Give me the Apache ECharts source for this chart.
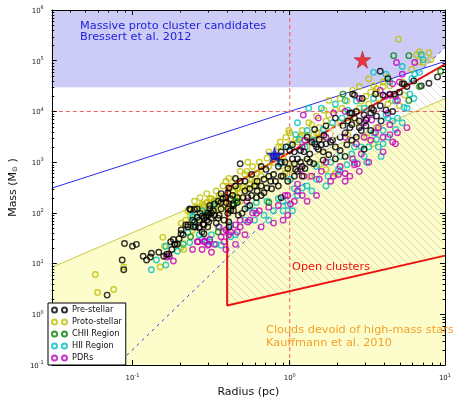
<!DOCTYPE html>
<html>
<head>
<meta charset="utf-8">
<script src="https://cdn.jsdelivr.net/npm/echarts@6/dist/echarts.min.js"></script>
<style>
html, body { margin: 0; padding: 0; background: #fff; }
#main { width: 454px; height: 403px; }
</style>
</head>
<body>
<div id="main"></div>
<script>
// axis extents: radius in pc, mass in solar masses
var radiusRange = [0.0307, 9.7];
var massRange = [0.1, 1e6];
var minorSteps = [2, 3, 4, 5, 6, 7, 8, 9];
var radiusDecades = [0.01, 0.1, 1];
var massDecades = [0.1, 1, 10, 100, 1e3, 1e4, 1e5];

// [radius, mass]
var preStellar = [
  [0.089,25],[0.10,22],[0.106,24],[0.086,11.8],[0.088,7.6],[0.069,2.4],[0.123,11.8],[0.13,13.5],[0.132,16],[0.158,14],
  [0.17,15.4],[0.175,27],[0.187,24],[0.193,24],[0.204,39],[0.225,53],[0.234,117],[0.248,117],[0.248,66],[0.266,51],
  [0.251,53],[0.258,82],[0.277,86],[0.293,86],[0.301,100],[0.281,60],[0.285,39],[0.31,120],[0.165,15.4],[0.185,24],
  [0.244,53],[0.266,72],[0.285,79],[0.305,90],[0.318,79],[0.318,100],[0.351,79],[0.356,90],[0.376,190],[0.366,120],
  [0.393,160],[0.404,98],[0.421,110],[0.41,66],[0.439,140],[0.464,160],[0.433,220],[0.464,200],[0.382,72],[0.41,53],
  [0.341,63],[0.301,53],[0.277,42],
  [0.484,930],[0.452,480],[0.393,200],[0.421,190],[0.439,150],[0.505,200],[0.541,200],[0.572,220],[0.614,200],[0.658,220],
  [0.686,250],[0.716,310],[0.736,530],[0.789,570],[0.756,420],[0.811,420],[0.767,300],[0.706,720],[0.686,460],[0.846,820],
  [0.933,1000],[1.0,1700],[1.07,1600],[1.04,1160],[1.12,1160],[1.17,1700],[1.23,1600],[1.07,930],[0.882,530],[0.846,340],
  [0.882,200],[0.557,140],[0.519,120],[0.439,110],[0.404,120],[0.471,90],[0.497,98],[0.332,90],[0.305,66],[0.285,58],
  [0.225,58],[0.31,140],[0.366,160],[0.231,120],
  [0.519,270],[0.557,300],[0.597,340],[0.62,270],[0.658,340],[0.452,340],[0.484,420],[0.332,150],[0.351,170],[0.404,250],
  [0.433,150],[0.258,120],[0.269,98],[0.241,72],[0.218,58],[0.204,46],[0.21,37],[0.182,30],[0.198,31],
  [0.297,72],[0.327,110],[0.366,240],[0.41,310],[0.519,420],[0.572,570],[0.62,420],[0.658,820],[0.789,1300],[0.882,1600],
  [0.946,2000],[1.29,3100],[1.44,4400],[1.70,5200],[1.95,7400],[2.18,5200],[2.41,9300],[2.89,1.8e4],[3.51,2.2e4],[5.34,3.5e4],
  [4.21,4.4e4],[0.178,19],[0.147,16.8],[0.117,14],
  [1.38,2500],[1.48,2000],[1.59,2200],[1.82,2500],[2.09,3100],[2.25,3800],[2.41,4800],[2.77,4800],[3.05,6800],[3.32,1.16e4],
  [1.20,820],[1.34,1000],[1.12,660],[0.972,750],[0.907,530],[0.972,420],[1.04,2200],[0.882,1000],[0.822,1300],
  [2.58,2.1e4],[2.51,2.2e4],[2.48,9300],[2.58,7400],[2.77,6500],[2.97,8500],[3.27,9300],[3.41,1.06e4],[3.76,1.3e4],[3.92,2.1e4],
  [4.33,2.2e4],[4.51,1.0e4],[4.09,1.06e4],[3.56,8100],[3.81,6500],[3.05,5200],[3.27,4200],[2.85,4200],[2.65,3100],[2.48,2700],
  [2.31,2200],[2.09,1700],[1.95,2000],[1.87,2700],[1.70,2300],[1.65,3400],[1.54,2800],[1.44,2300],[1.52,1800],[1.63,1600],
  [1.77,1400],[1.34,1450],[1.29,1160],[1.17,1000],[1.09,720],[1.07,530],[1.20,530],[1.25,750],[1.42,930],[1.63,1100],
  [1.95,1160],[2.25,1300],[2.97,1800],[2.48,5500],[2.65,1.0e4],[2.34,6500],
  [3.76,6.2e4],[6.14,4.0e4],[6.86,3.2e4],[8.7,4.8e4],[7.67,3.6e4],[5.56,3.1e4],[5.19,3.5e4],[4.98,2.4e4],[4.64,2.2e4]
];

var protoStellar = [
  [0.058,6.1],[0.06,2.7],[0.076,3.1],[0.088,8.6],[0.156,33],[0.16,22],[0.15,8.6],[0.204,63],[0.212,19],[0.269,200],
  [0.281,130],[0.305,130],[0.31,190],[0.204,21],[0.21,25],[0.273,120],[0.318,190],[0.332,130],[0.356,150],[0.371,190],
  [0.241,46],[0.297,100],[0.464,300],[0.452,460],
  [0.393,420],[0.421,340],[0.505,340],[0.557,370],[0.597,420],[0.484,170],[0.452,220],[0.356,220],[0.332,170],[0.297,160],
  [0.251,130],[0.234,90],[0.218,72],[0.262,63],[0.736,820],[0.789,1000],[0.658,530],[0.907,1300],[0.882,2000],[1.12,2500],
  [1.29,2000],[1.42,3500],[1.59,3100],[1.82,4800],[2.09,6000],[2.41,7400],[2.65,6000],[2.77,1.16e4],[3.18,1.4e4],[3.66,1.8e4],
  [4.21,1.4e4],[5.41,2.1e4],
  [0.225,110],[0.248,170],[0.277,150],[0.297,240],[0.341,270],[0.376,340],[0.41,480],[0.519,570],[0.58,820],[0.64,1000],
  [0.541,1000],[0.484,660],[0.736,1600],[0.87,2500],[0.946,3100],[1.32,6000],[1.48,8100],[1.65,1.06e4],[2.09,1.8e4],[2.51,2.6e4],
  [2.77,3.1e4],[4.21,4.8e4],[5.19,3.8e4],[5.97,6.8e4],[7.88,1.05e5],
  [0.716,1200],[0.811,1400],[0.534,660],[0.614,600],[0.658,720],[0.572,460],[0.614,340],[0.534,300],[0.484,250],[0.471,310],
  [0.439,270],[0.285,140],[0.31,98],[0.351,120],[0.393,140],[0.421,120],[0.933,600],[1.01,720],[0.972,930],[1.0,3800],
  [1.09,2800],[1.20,3400],[0.846,2000],[0.986,4200],
  [1.77,1.65e4],[3.18,4.4e4],[4.91,2.66e5],[6.69,1.5e5],[6.86,1.31e5],[7.67,1.44e5],[6.41,1.31e5],[6.60,9.6e4],[7.06,9.2e4],[3.56,2.8e4],
  [3.92,3.8e4],
  [1.54,4800],[1.77,8500],[1.95,1.06e4],[2.15,1.16e4],[2.31,1.6e4],[2.85,1.6e4],[3.05,2.0e4],[3.27,2.4e4],[3.56,2.4e4],[3.41,3.2e4],
  [3.92,3.1e4],[4.33,3.2e4],[4.70,2.2e4],[4.51,1.65e4],[4.98,1.3e4],[1.70,6500],[1.48,3800],[1.29,3400],[1.17,3100],[1.01,2300],
  [1.20,4200],[1.38,5500],[2.04,4800],[1.95,3400],[2.34,3500],[3.56,4800],[3.09,3100],[3.41,2300],[1.54,890],[1.70,720],
  [1.95,600],[1.34,530]
];

var chiiRegion = [
  [0.234,34],[0.351,42],[0.452,170],[0.736,160],[2.18,2.2e4],[4.58,1.26e5],[5.72,1.26e5],[9.1,6.2e4],[6.69,3.1e4],[5.72,1.65e4]
];

var hiiRegion = [
  [0.132,7.6],[0.142,11.8],[0.163,22],[0.163,9.4],[0.193,17.5],[0.231,26],[0.241,86],[0.31,27],[0.244,82],[0.225,41],
  [0.266,37],[0.318,37],[0.297,27],[0.366,23],[0.327,140],[0.421,34],
  [0.686,90],[0.789,110],[0.907,170],[1.12,220],[1.29,340],[1.48,820],[1.82,1000],[2.09,1300],[2.58,2000],[3.41,3800],
  [4.21,7400],[0.519,72],[0.597,110],[0.452,37],[0.341,24],
  [0.21,24],[0.277,30],[0.597,72],[0.736,72],[0.907,110],[1.04,110],[1.38,270],[1.70,340],[2.09,660],[2.58,1000],
  [3.18,2000],[3.66,2000],[4.21,3100],[5.19,6000],[5.56,1.16e4],[1.12,6000],[0.972,2000],[1.59,1.16e4],[1.95,1.4e4],[3.41,1.8e4],
  [1.09,3500],[0.87,930],[1.01,460],[1.07,300],[0.846,190],[0.716,170],[0.614,160],[0.277,110],[0.305,100],[0.251,58],
  [0.351,53],[0.421,58],[0.541,130],[1.20,310],[1.25,2000],[0.972,140],
  [1.32,1.16e4],[2.25,1.65e4],[2.65,1.6e4],[2.34,1.06e4],[2.97,1.16e4],[4.09,8500],[4.51,6500],[4.84,7400],[4.70,4400],[3.92,4200],
  [3.56,2800],[3.92,2300],[2.97,1300],[2.85,2000],[2.48,1450],[2.31,890],[2.04,720],[1.75,530],[1.48,460],[1.63,4400],
  [1.87,6000],[2.15,7400],[3.09,1000],[3.81,1300],[1.42,2700],[1.15,2800],[4.70,1.6e4],
  [5.19,7.7e4],[7.06,1.05e5],[6.69,5.9e4],[6.23,5.4e4],[5.97,4.4e4],[5.80,2.2e4],[6.14,1.8e4],[5.34,1.2e4],[4.09,5.4e4],[4.33,3.8e4],
  [3.41,5.9e4],[6.86,1.31e5],[1.29,4200]
];

var pdrs = [
  [0.172,14],[0.182,11.3],[0.262,27],[0.301,23],[0.289,28],[0.31,30],[0.305,24],[0.285,27],[0.258,27],[0.356,53],
  [0.376,42],[0.165,13.5],[0.393,46],[0.266,53],[0.464,42],[0.614,98],[0.58,100],[0.484,72],[0.452,58],[0.366,34],
  [0.64,110],[0.736,130],[0.846,140],[0.972,220],[1.12,270],[1.38,530],[1.59,660],[2.09,820],[1.70,1000],[2.97,3100],
  [3.66,4800],[4.21,9300],[0.557,72],[0.484,53],[0.41,37],[0.332,24],[0.393,19],[0.318,16.8],[0.277,19],
  [0.452,24],[0.519,37],[0.658,53],[0.789,63],[0.907,72],[1.29,170],[1.48,220],[1.82,420],[2.25,420],[2.77,660],
  [3.18,1000],[3.92,1600],[4.51,2500],[5.56,4800],[1.70,3100],[2.25,3100],[2.77,1.8e4],[4.51,3.5e4],[2.97,6000],[0.241,19],
  [0.933,220],[1.01,150],[1.07,170],[1.20,220],[1.23,530],[1.17,720],[1.12,370],[0.972,90],[0.534,170],[0.421,42],
  [0.382,27],[0.541,66],
  [1.52,7400],[1.90,9300],[2.25,1.0e4],[3.09,7400],[3.76,2.6e4],[4.04,2.0e4],[3.32,6800],[3.51,3800],[4.33,3500],[4.84,3800],
  [3.92,3100],[3.27,2700],[2.65,2300],[2.85,1450],[2.58,890],[2.25,600],[1.90,530],[2.41,530],[1.54,460],[1.25,2700],
  [1.20,2000],[4.70,2300],[4.33,5500],[2.04,570],[2.51,1160],[2.69,930],
  [4.77,9.2e4],[6.23,9.2e4],[5.19,5.4e4],[4.98,3.8e4],[4.70,2.0e4],[4.84,1.65e4],[4.33,2.1e4],[1.22,8500]
];

var redStar = [[2.9, 1.05e5]];
var blueStar = [[0.80, 1400]];
var whiteStar = [[2.0, 4200]];

// region outlines
var massiveRegion = [[0.0307,3e4],[3,3e4],[7.07,7.07e4],[9.7,1.82e5],[9.7,1e6],[0.0307,1e6]];
var bressertLine = [[0.0307,307],[9.7,9.7e4]];
var densityLine = [[0.0794,0.1],[9.7,1.82e5]];
var kauffmannRegion = [[0.0307,0.1],[0.0307,8.45],[9.7,17900],[9.7,0.1]];
var kauffmannLine = [[0.0307,8.45],[9.7,17900]];
var openClusterRegion = [[0.4,1.5],[0.4,310],[9.7,84600],[9.7,14.4]];
var openClusterEdge = [[9.7,84600],[0.4,310],[0.4,1.5],[9.7,14.4]];
var massCut = [[0.0307,1e4],[9.7,1e4]];
var radiusCut = [[1,0.1],[1,1e6]];

var legendNames = ['Pre-stellar', 'Proto-stellar', 'CHII Region', 'HII Region', 'PDRs'];

// diagonal hatch tile
var hatch = document.createElement('canvas');
hatch.width = 8; hatch.height = 8;
var hctx = hatch.getContext('2d');
hctx.strokeStyle = 'rgba(140,140,110,0.35)';
hctx.lineWidth = 0.8;
hctx.beginPath();
hctx.moveTo(0, 0); hctx.lineTo(8, 8);
hctx.moveTo(-1, 7); hctx.lineTo(1, 9);
hctx.moveTo(7, -1); hctx.lineTo(9, 1);
hctx.stroke();

function regionSeries(points, style, z) {
  return {
    type: 'custom',
    silent: true,
    z: z,
    clip: true,
    data: [[1, 1]],
    renderItem: function (params, api) {
      return {
        type: 'polygon',
        shape: { points: points.map(function (p) { return api.coord(p); }) },
        style: style
      };
    }
  };
}

function inRange(v, r) { return v > r[0] * 1.0001 && v < r[1] * 0.9999; }

// matplotlib-style minor ticks on all four sides
var minorTickSeries = {
  type: 'custom',
  silent: true,
  z: 9,
  clip: false,
  data: [[1, 1]],
  renderItem: function (params, api) {
    var cs = params.coordSys;
    var kids = [];
    var st = { stroke: '#000', lineWidth: 1 };
    radiusDecades.forEach(function (d) {
      minorSteps.forEach(function (m) {
        var v = d * m;
        if (!inRange(v, radiusRange)) return;
        var px = Math.round(api.coord([v, 1])[0]) + 0.5;
        kids.push({ type: 'line', shape: { x1: px, y1: cs.y + cs.height, x2: px, y2: cs.y + cs.height - 2.5 }, style: st });
        kids.push({ type: 'line', shape: { x1: px, y1: cs.y, x2: px, y2: cs.y + 2.5 }, style: st });
      });
    });
    massDecades.forEach(function (d) {
      minorSteps.forEach(function (m) {
        var v = d * m;
        if (!inRange(v, massRange)) return;
        var py = Math.round(api.coord([1, v])[1]) + 0.5;
        kids.push({ type: 'line', shape: { x1: cs.x, y1: py, x2: cs.x + 2.5, y2: py }, style: st });
        kids.push({ type: 'line', shape: { x1: cs.x + cs.width, y1: py, x2: cs.x + cs.width - 2.5, y2: py }, style: st });
      });
    });
    return { type: 'group', children: kids };
  }
};

function lineSeries(data, color, width, type, z) {
  return {
    type: 'line', data: data, showSymbol: false, silent: true, z: z,
    lineStyle: { color: color, width: width, type: type }
  };
}

function dots(name, data, color, z) {
  return {
    type: 'scatter', name: name, data: data, symbol: 'circle', symbolSize: 5.5, z: z,
    itemStyle: { color: 'rgba(0,0,0,0)', borderColor: color, borderWidth: 1.4 },
    emphasis: { disabled: true }
  };
}

var starPath = 'path://M50,0L61,35L98,35L68,57L79,91L50,70L21,91L32,57L2,35L39,35Z';

function star(data, color, border, size) {
  return {
    type: 'scatter', data: data, symbol: starPath, symbolSize: size, z: 8,
    itemStyle: { color: color, borderColor: border, borderWidth: 0.6 },
    emphasis: { disabled: true }
  };
}

function powLabel(v) {
  var e = Math.log10(v);
  var r = Math.round(e);
  if (Math.abs(e - r) > 0.02) return '';
  return '{b|10}{s|' + r + '}';
}

var labelRich = {
  b: { fontSize: 7, lineHeight: 9, verticalAlign: 'bottom', color: '#222' },
  s: { fontSize: 5, lineHeight: 9, verticalAlign: 'top', color: '#222' }
};

function logAxis(range, pos, showLabels, extra) {
  var ax = {
    type: 'log', position: pos, min: range[0], max: range[1], z: 10,
    axisLine: { show: true, onZero: false, lineStyle: { color: '#000', width: 1 } },
    axisTick: { show: true, inside: true, length: 5, lineStyle: { color: '#000' } },
    splitLine: { show: false },
    axisLabel: { show: showLabels, formatter: powLabel, rich: labelRich, color: '#222' }
  };
  for (var k in extra) ax[k] = extra[k];
  return ax;
}

var chart = echarts.init(document.getElementById('main'));

var option = {
  animation: false,
  backgroundColor: '#fff',
  textStyle: { fontFamily: 'DejaVu Sans' },
  grid: { left: 43, right: 1, top: 10, bottom: 29 },
  xAxis: [
    logAxis(radiusRange, 'bottom', true, {
      name: 'Radius (pc)', nameLocation: 'middle', nameGap: 16,
      nameTextStyle: { fontSize: 11, color: '#111' }
    }),
    logAxis(radiusRange, 'top', false, {})
  ],
  yAxis: [
    logAxis(massRange, 'left', true, {
      name: '{m|Mass (M}{u|⊙}{m| )}', nameLocation: 'middle', nameGap: 22,
      nameTextStyle: {
        fontSize: 11, color: '#111',
        rich: { m: { fontSize: 11, color: '#111' }, u: { fontSize: 7, color: '#111', verticalAlign: 'bottom', lineHeight: 11 } }
      }
    }),
    logAxis(massRange, 'right', false, {})
  ],
  legend: {
    data: legendNames,
    orient: 'vertical', left: 48, top: 303, z: 20,
    backgroundColor: '#fff', borderColor: '#000', borderWidth: 1, borderRadius: 0,
    padding: [3, 4, 3, 3],
    itemWidth: 15, itemHeight: 5, itemGap: 4,
    icon: 'path://M0,2.5a2.5,2.5 0 1,0 5,0a2.5,2.5 0 1,0 -5,0M10,2.5a2.5,2.5 0 1,0 5,0a2.5,2.5 0 1,0 -5,0',
    selectedMode: false,
    textStyle: { fontSize: 8.2, color: '#111' }
  },
  graphic: [
    { type: 'text', left: 80, top: 20, z: 20, style: { text: 'Massive proto cluster candidates\nBressert et al. 2012', fill: '#2222dd', font: '11.3px "DejaVu Sans"', lineHeight: 11.5 } },
    { type: 'text', left: 292, top: 262, z: 20, style: { text: 'Open clusters', fill: '#ee1111', font: '11.3px "DejaVu Sans"' } },
    { type: 'text', left: 266, top: 324, z: 20, style: { text: 'Clouds devoid of high-mass stars\nKauffmann et al. 2010', fill: '#f2a02a', font: '11.3px "DejaVu Sans"', lineHeight: 13 } }
  ],
  series: [
    regionSeries(massiveRegion, { fill: '#ccccf7' }, 1),
    regionSeries(kauffmannRegion, { fill: '#fdfdcc' }, 1),
    regionSeries(openClusterRegion, { fill: { image: hatch, repeat: 'repeat' } }, 2),
    lineSeries(kauffmannLine, '#c8c84a', 1, 'solid', 3),
    lineSeries(bressertLine, '#2a2aee', 1, 'solid', 3),
    lineSeries(densityLine, '#3a3aee', 1, [3, 4], 3),
    lineSeries(massCut, '#f05a5a', 1, [4, 3], 3),
    lineSeries(radiusCut, '#f05a5a', 1, [4, 3], 3),
    lineSeries(openClusterEdge, '#ee1111', 2, 'solid', 3),
    dots('Proto-stellar', protoStellar, '#bfbf00', 4),
    dots('HII Region', hiiRegion, '#00bfbf', 4),
    dots('PDRs', pdrs, '#bf00bf', 4),
    dots('Pre-stellar', preStellar, '#000000', 5),
    dots('CHII Region', chiiRegion, '#008000', 5),
    star(redStar, '#ee1111', '#991111', 17),
    star(blueStar, '#1111ee', '#111199', 16),
    star(whiteStar, '#ffffff', '#dddddd', 16),
    minorTickSeries
  ]
};

chart.setOption(option);
</script>
</body>
</html>
